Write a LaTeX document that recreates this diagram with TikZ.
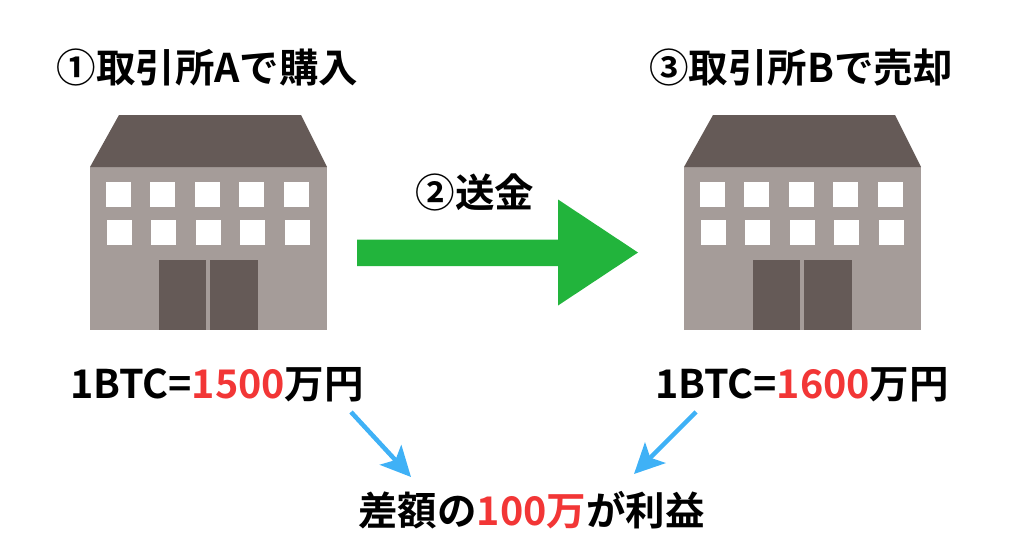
\documentclass[tikz,border=0pt]{standalone}
\usepackage{fontspec}
\usepackage{xcolor}
\setmainfont{Noto Sans CJK JP}[BoldFont={Noto Sans CJK JP Bold}]
\usetikzlibrary{arrows.meta}
\usetikzlibrary{positioning}

\definecolor{wallgray}{HTML}{A59C99}
\definecolor{roofgray}{HTML}{655A57}
\definecolor{sendgreen}{HTML}{22B43C}
\definecolor{notered}{HTML}{F23636}
\definecolor{noteblue}{HTML}{3FB1F6}

\tikzset{
  caption/.style={inner sep=0pt,font=\fontsize{39.5}{39.5}\selectfont\bfseries,text=black},
  price/.style={caption},
  profitarrow/.style={noteblue,line width=4.5pt,-{Stealth[length=30pt,width=29pt,inset=7pt]}},
}

% one building, origin at the left end of the eaves
\newcommand{\building}[1]{
  \begin{scope}[shift={(#1,167)}]
    \fill[wallgray] (0,0) rectangle (237,163);
    \fill[roofgray] (29,-52) -- (211,-52) -- (237,0) -- (0,0) -- cycle;
    % windows
    \foreach \i in {0,...,4} {
      \fill[white] ({16+44.4*\i},15) rectangle ++(25,25);
      \fill[white] ({17+44.4*\i},52.5) rectangle ++(25,25);
    }
    % doors
    \fill[roofgray] (68.5,92.5) rectangle (116,163);
    \fill[roofgray] (120,92.5) rectangle (167.5,163);
  \end{scope}
}

\begin{document}
\begin{tikzpicture}[x=1pt,y=-1pt]
  \useasboundingbox (0,0) rectangle (1024,538);

  \building{90}
  \building{684}

  % green arrow
  \fill[sendgreen] (357,239.5) -- (558,239.5) -- (558,199.5) -- (638,252.5)
    -- (558,305.5) -- (558,266) -- (357,266) -- cycle;

  % headings
  \node[caption] (buyA) at (207.5,67.5) {①取引所Aで購入};
  \node[caption] (sellB) at (801,67.5) {③取引所Bで売却};
  \node[caption] (send) at (475,192) {②送金};

  % prices
  \node[price] (priceA) at (217,385) {1BTC=\textcolor{notered}{1500}万円};
  \node[price] (priceB) at (802,385) {1BTC=\textcolor{notered}{1600}万円};
  \node[price] (profit) at (531.5,510) {差額の\textcolor{notered}{100万}が利益};

  % arrows to the profit
  \coordinate (fromA) at (351,412);
  \coordinate (toA) at (411,477);
  \coordinate (fromB) at (696,412);
  \coordinate (toB) at (634,474);
  \draw[profitarrow] (fromA) -- (toA);
  \draw[profitarrow] (fromB) -- (toB);
\end{tikzpicture}
\end{document}
